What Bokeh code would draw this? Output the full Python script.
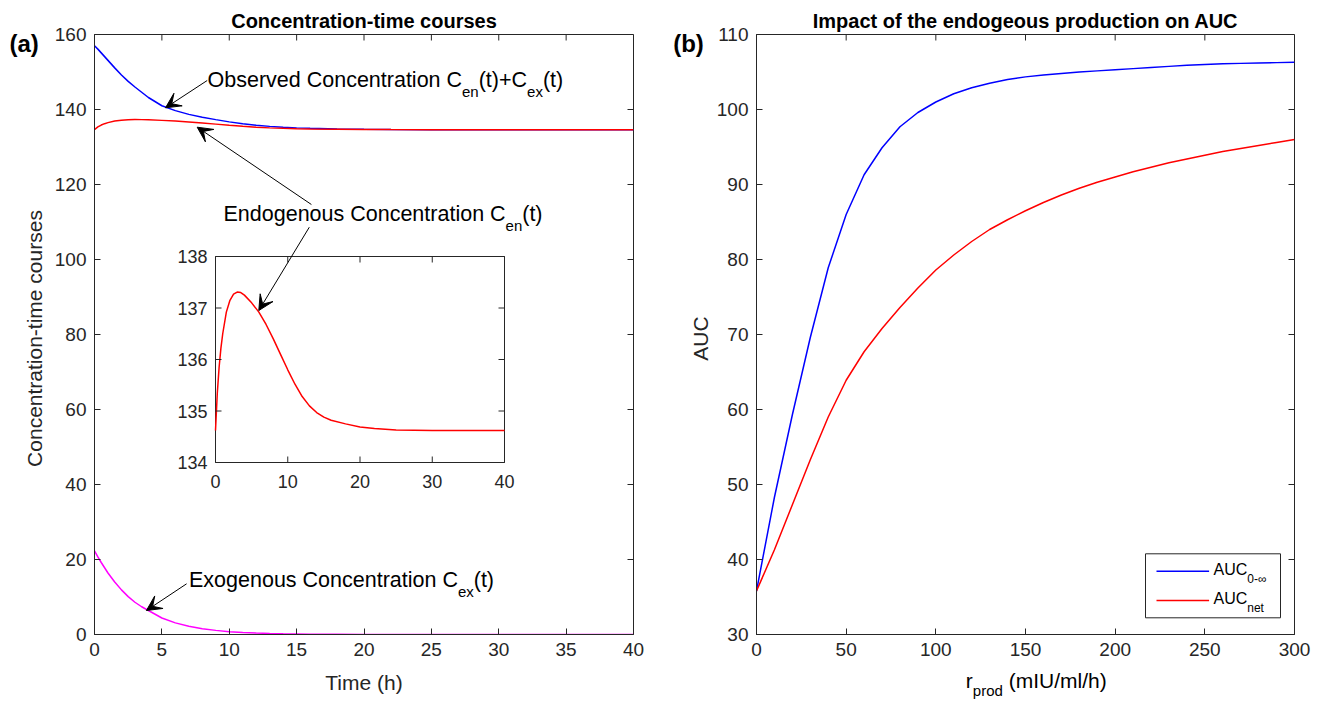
import numpy as np
from bokeh.plotting import figure
from bokeh.layouts import row, column
from bokeh.models import Range1d, FixedTicker, Label, Arrow, VeeHead
from bokeh.embed import file_html
from bokeh.resources import INLINE
from bokeh.core.properties import value

FONT = "Liberation Sans"

# ---------------- data ----------------
time_h = [0, 0.25, 0.5, 0.75, 1, 1.5, 2, 2.5, 3, 3.5, 4, 5, 6, 7, 8, 9, 10, 11, 12,
          13, 14, 15, 16, 18, 20, 22, 25, 30, 35, 40]
observed = [157.0, 156.1, 155.1, 154.1, 153.1, 151.1, 149.2, 147.5, 146.0, 144.6, 143.2,
            141.0, 139.7, 138.7, 137.95, 137.3, 136.7, 136.2, 135.8, 135.5, 135.27,
            135.1, 134.98, 134.82, 134.72, 134.67, 134.63, 134.62, 134.62, 134.62]
endogenous = [134.62, 135.35, 135.85, 136.22, 136.50, 136.92, 137.15, 137.27, 137.31,
              137.30, 137.25, 137.10, 136.92, 136.68, 136.40, 136.10, 135.80, 135.52,
              135.28, 135.10, 134.97, 134.88, 134.82, 134.75, 134.69, 134.66, 134.63,
              134.62, 134.62, 134.62]
exogenous = [22.3, 20.7, 19.2, 17.8, 16.4, 14.0, 11.9, 10.1, 8.6, 7.4, 6.4, 4.4, 3.1,
             2.2, 1.55, 1.1, 0.75, 0.53, 0.37, 0.26, 0.18, 0.13, 0.09, 0.05, 0.03,
             0.015, 0.005, 0.0, 0.0, 0.0]

r_prod = list(range(0, 301, 10))
auc_inf = [35.8, 48.3, 59.3, 69.6, 78.9, 86.0, 91.3, 94.9, 97.7, 99.6, 101.0, 102.1,
           102.9, 103.5, 104.0, 104.35, 104.6, 104.8, 105.0, 105.15, 105.3, 105.45,
           105.6, 105.75, 105.9, 106.0, 106.1, 106.15, 106.2, 106.25, 106.3]
auc_net = [35.8, 41.3, 47.3, 53.3, 59.0, 63.9, 67.7, 70.8, 73.6, 76.2, 78.6, 80.6,
           82.4, 84.0, 85.3, 86.5, 87.6, 88.6, 89.5, 90.3, 91.0, 91.7, 92.3, 92.9,
           93.4, 93.9, 94.4, 94.8, 95.2, 95.6, 96.0]

left_xticks = [0, 5, 10, 15, 20, 25, 30, 35, 40]
left_yticks = [0, 20, 40, 60, 80, 100, 120, 140, 160]
inset_xticks = [0, 10, 20, 30, 40]
inset_yticks = [134, 135, 136, 137, 138]
right_xticks = [0, 50, 100, 150, 200, 250, 300]
right_yticks = [30, 40, 50, 60, 70, 80, 90, 100, 110]

# ---------------- layout constants (page pixels) ----------------
H = 700
FH = 600
TOP = 34
L_FW, R_FW = 539, 538
STRIP_A = 50            # left strip of panel (a)
M1_LEFT, M1_RIGHT = 44, 27
STRIP_B = 52
M2_LEFT, M2_RIGHT = 44, 20
M2_BOT = 33
L_X0 = STRIP_A + M1_LEFT                      # 94
M1_W = M1_LEFT + L_FW + M1_RIGHT
B_X0 = L_X0 - M1_LEFT + M1_W                  # start of strip b
R_X0 = B_X0 + STRIP_B + M2_LEFT               # 756
M2_W = M2_LEFT + R_FW + M2_RIGHT
Y0 = TOP + FH                                 # 634
TICK = 6
MID = 0.35   # distance (em) from alphabetic baseline to the "middle" anchor

# Liberation Sans advance widths (per 1000 em)
WID = {' ': 278, '(': 333, ')': 333, '+': 584, '-': 333, '/': 278, '0': 556,
       'A': 667, 'C': 722, 'E': 667, 'I': 278, 'O': 778, 'U': 722, 'a': 556,
       'b': 556, 'c': 500, 'd': 556, 'e': 556, 'g': 556, 'h': 556, 'i': 222,
       'l': 222, 'm': 833, 'n': 556, 'o': 556, 'p': 556, 'r': 333, 's': 500,
       't': 278, 'u': 556, 'v': 500, 'x': 500, '\u221e': 713}


def tw(s, size):
    return sum(WID.get(c, 556) for c in s) * size / 1000.0


def lx(px):
    return (px - L_X0) * 40.0 / L_FW


def ly(py):
    return (Y0 - py) * 160.0 / FH


def rx(px):
    return (px - R_X0) * 300.0 / R_FW


def ry(py):
    return 30 + (Y0 - py) * 80.0 / FH


def rich(p, x, y_base, parts, dy_unit, align="left", color="black"):
    """parts: (text, font px, baseline drop px, bold). y_base is the baseline."""
    total = sum(tw(t, s) for t, s, d, b in parts)
    off = -total / 2.0 if align == "center" else 0.0
    for t, s, d, b in parts:
        stripped = t.lstrip(" ")
        off += tw(t[:len(t) - len(stripped)], s)
        down = d - MID * s
        p.add_layout(Label(x=x, y=y_base - down * dy_unit, x_offset=off, text=stripped,
                           text_font=FONT, text_font_size=f"{s}px",
                           text_font_style="bold" if b else "normal",
                           text_baseline="middle", text_align="left",
                           text_color=color))
        off += tw(stripped, s)


def strip(width, height, x0, y0):
    s = figure(width=width, height=height, x_range=Range1d(x0, x0 + width),
               y_range=Range1d(y0 + height, y0), output_backend="svg", title=None,
               toolbar_location=None, min_border=0, x_axis_type=None, y_axis_type=None)
    s.outline_line_color = None
    s.xgrid.visible = False
    s.ygrid.visible = False
    s.background_fill_color = "white"
    s.border_fill_color = "white"
    return s


def style(p, xticks, yticks, title):
    p.xgrid.visible = False
    p.ygrid.visible = False
    p.outline_line_color = "#262626"
    p.outline_line_width = 1
    p.background_fill_color = "white"
    p.border_fill_color = "white"
    p.title.text = title
    p.title.align = "center"
    p.title.text_font = FONT
    p.title.text_font_size = "20px"
    p.title.text_font_style = "bold"
    p.title.text_color = "black"
    p.title.standoff = 5
    for ax in p.axis:
        ax.major_tick_in = TICK
        ax.major_tick_out = 0
        ax.minor_tick_in = 0
        ax.minor_tick_out = 0
        ax.axis_line_color = "#262626"
        ax.major_tick_line_color = "#262626"
        ax.major_label_text_font = FONT
        ax.major_label_text_font_size = "19px"
        ax.major_label_text_color = "#262626"
        ax.major_label_standoff = 8
        ax.axis_label_text_font = FONT
        ax.axis_label_text_font_size = "21px"
        ax.axis_label_text_font_style = "normal"
        ax.axis_label_text_color = "#262626"
    p.xaxis[0].ticker = FixedTicker(ticks=xticks)
    p.yaxis[0].ticker = FixedTicker(ticks=yticks)
    # ticks on the top and right edges of the box (inward)
    xr, yr = p.x_range, p.y_range
    fw = p.width - p.min_border_left - p.min_border_right
    dx = TICK * (xr.end - xr.start) / fw
    dy = TICK * (yr.end - yr.start) / FH
    xt = np.array(xticks, dtype=float)
    yt = np.array(yticks, dtype=float)
    p.segment(x0=xt, y0=np.full(len(xt), yr.end), x1=xt, y1=np.full(len(xt), yr.end - dy),
              line_color="#262626")
    p.segment(x0=np.full(len(yt), xr.end), y0=yt, x1=np.full(len(yt), xr.end - dx), y1=yt,
              line_color="#262626")


def arrow(p, x0, y0, x1, y1):
    p.add_layout(Arrow(x_start=x0, y_start=y0, x_end=x1, y_end=y1, line_color="black",
                       line_width=1,
                       end=VeeHead(size=15, fill_color="black", line_color="black",
                                   line_width=1)))


# ---------------- panel (a) ----------------
sa = strip(STRIP_A, H, 0, 0)
rich(sa, 9, 51, [("(a)", 24, 0, True)], -1)
sa.add_layout(Label(x=33.5, y=338, text="Concentration-time courses", angle=np.pi / 2,
                    text_align="center", text_baseline="middle", text_font=FONT,
                    text_font_size="21px", text_color="#262626"))

p1 = figure(width=M1_W, height=H, x_range=Range1d(0, 40), y_range=Range1d(0, 160),
            output_backend="svg", toolbar_location=None,
            min_border_left=M1_LEFT, min_border_right=M1_RIGHT,
            min_border_top=TOP, min_border_bottom=H - TOP - FH)
style(p1, left_xticks, left_yticks, "Concentration-time courses")
p1.xaxis[0].axis_label = "Time (h)"
p1.xaxis[0].axis_label_standoff = 12

p1.line(time_h, observed, line_color="#0000ff", line_width=1.5)
p1.line(time_h, endogenous, line_color="#ff0000", line_width=1.5)
p1.line(time_h, exogenous, line_color="#ff00ff", line_width=1.5)

# inset
ins = p1.subplot(x_source=Range1d(0, 40), y_source=Range1d(134, 138),
                 x_target=Range1d(lx(215), lx(504)), y_target=Range1d(ly(462), ly(256)))
ins.quad(left=[0], right=[40], bottom=[134], top=[138], fill_color="white",
         line_color="#262626", line_width=1)
ins.line(time_h, endogenous, line_color="#ff0000", line_width=1.5)
tx = TICK * 40.0 / (504 - 215)
ty = TICK * 4.0 / (462 - 256)
ixt = np.array(inset_xticks, dtype=float)
iyt = np.array(inset_yticks, dtype=float)
ins.segment(x0=ixt, y0=np.full(5, 134.0), x1=ixt, y1=np.full(5, 134.0 + ty),
            line_color="#262626")
ins.segment(x0=ixt, y0=np.full(5, 138.0), x1=ixt, y1=np.full(5, 138.0 - ty),
            line_color="#262626")
ins.segment(x0=np.full(5, 0.0), y0=iyt, x1=np.full(5, tx), y1=iyt, line_color="#262626")
ins.segment(x0=np.full(5, 40.0), y0=iyt, x1=np.full(5, 40.0 - tx), y1=iyt,
            line_color="#262626")
ins.text(x=ixt, y=np.full(5, 134.0), text=[str(v) for v in inset_xticks],
         text_align="center", text_baseline="middle", y_offset=19,
         text_font=value(FONT), text_font_size="18px", text_color="#262626")
ins.text(x=np.zeros(5), y=iyt, text=[str(v) for v in inset_yticks],
         text_align="right", text_baseline="middle", x_offset=-8,
         text_font=value(FONT), text_font_size="18px", text_color="#262626")

dyl = 160.0 / FH
rich(p1, lx(207), ly(87.5), [("Observed Concentration C", 21.5, 0, False), ("en", 15, 9, False),
                              ("(t)+C", 21.5, 0, False), ("ex", 15, 9, False),
                              ("(t)", 21.5, 0, False)], dyl)
rich(p1, lx(223), ly(221), [("Endogenous Concentration C", 21.5, 0, False), ("en", 15, 9, False),
                             ("(t)", 21.5, 0, False)], dyl)
rich(p1, lx(188.5), ly(587), [("Exogenous Concentration C", 21.5, 0, False), ("ex", 15, 9, False),
                               ("(t)", 21.5, 0, False)], dyl)

arrow(p1, lx(206.7), ly(80), lx(165), ly(107.3))
arrow(p1, lx(310.9), ly(204), lx(196.7), ly(126.7))
arrow(p1, lx(308.8), ly(226.7), lx(258.3), ly(310))
arrow(p1, lx(186.1), ly(583.3), lx(145.9), ly(610))

# ---------------- panel (b) ----------------
sb = strip(STRIP_B, H, B_X0, 0)
rich(sb, 672.7, 51, [("(b)", 24, 0, True)], -1)
sb.add_layout(Label(x=700, y=338, text="AUC", angle=np.pi / 2,
                    text_align="center", text_baseline="middle", text_font=FONT,
                    text_font_size="21px", text_color="#262626"))

M2_H = H - M2_BOT
p2 = figure(width=M2_W, height=M2_H, x_range=Range1d(0, 300),
            y_range=Range1d(30, 110), output_backend="svg", toolbar_location=None,
            min_border_left=M2_LEFT, min_border_right=M2_RIGHT,
            min_border_top=TOP, min_border_bottom=M2_H - TOP - FH)
style(p2, right_xticks, right_yticks, "Impact of the endogeous production on AUC")

p2.line(r_prod, auc_inf, line_color="#0000ff", line_width=1.5)
p2.line(r_prod, auc_net, line_color="#ff0000", line_width=1.5)

dyr = 80.0 / FH
# legend (drawn by hand for subscripts)
p2.quad(left=[rx(1145)], right=[rx(1280)], bottom=[ry(617.3)], top=[ry(553.3)],
        fill_color="white", line_color="#262626", line_width=1)
p2.segment(x0=[rx(1156)], y0=[ry(570.7)], x1=[rx(1208.6)], y1=[ry(570.7)],
           line_color="#0000ff", line_width=1.5)
p2.segment(x0=[rx(1156)], y0=[ry(600)], x1=[rx(1208.6)], y1=[ry(600)],
           line_color="#ff0000", line_width=1.5)
rich(p2, rx(1213), ry(575), [("AUC", 16, 0, False), ("0-\u221e", 12, 8, False)], dyr)
rich(p2, rx(1213), ry(603.5), [("AUC", 16, 0, False), ("net", 12, 8, False)], dyr)

sc = strip(M2_W, M2_BOT, B_X0 + STRIP_B, M2_H)
rich(sc, R_X0 + R_FW / 2.0, 687, [("r", 21, 0, False), ("prod", 15, 8, False),
                                  (" (mIU/ml/h)", 21, 0, False)], -1, align="center")

layout = row(column(sa), p1, column(sb), column(p2, sc))
open("out.html", "w").write(file_html(layout, INLINE))
